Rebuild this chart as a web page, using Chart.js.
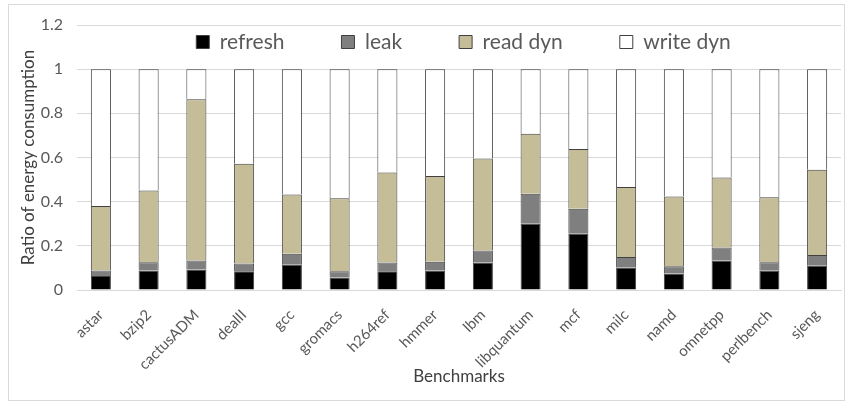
<!DOCTYPE html>
<html><head><meta charset="utf-8">
<script src="https://cdn.jsdelivr.net/npm/chart.js@4.4.1/dist/chart.umd.min.js"></script>
<style>
html,body{margin:0;padding:0;background:#fff;}
canvas{display:block;}
</style></head><body>
<canvas id="c" width="849" height="404"></canvas>
<script>
const categories = ['astar','bzip2','cactusADM','dealII','gcc','gromacs','h264ref','hmmer','lbm','libquantum','mcf','milc','namd','omnetpp','perlbench','sjeng'];
const refresh  = [0.063,0.088,0.093,0.085,0.114,0.057,0.085,0.088,0.125,0.300,0.255,0.102,0.075,0.134,0.087,0.110];
const leak     = [0.025,0.038,0.041,0.035,0.050,0.028,0.040,0.040,0.054,0.136,0.113,0.047,0.032,0.059,0.039,0.048];
const readDyn  = [0.292,0.325,0.730,0.452,0.269,0.331,0.407,0.388,0.416,0.271,0.271,0.317,0.316,0.317,0.294,0.387];
const writeDyn = [0.620,0.549,0.136,0.428,0.567,0.584,0.468,0.484,0.405,0.293,0.361,0.534,0.577,0.490,0.580,0.455];
const yTickLabels = ['0','0.2','0.4','0.6','0.8','1','1.2'];
const seriesNames = ['refresh','leak','read dyn','write dyn'];
const seriesColors = ['#000000','#7f7f7f','#c4bd97','#ffffff'];

const FONT = 'Lato';
const TXT = '#595959';
const LEGEND_Y = 31.5;
const LEGEND_DX = 43;

const frame = {
  id: 'frame',
  beforeDraw(chart) {
    const ctx = chart.ctx;
    ctx.save();
    ctx.fillStyle = '#ffffff';
    ctx.fillRect(0, 0, chart.width, chart.height);
    ctx.strokeStyle = '#d9d9d9';
    ctx.lineWidth = 1;
    ctx.strokeRect(8.5, 4.5, 836, 396);
    ctx.restore();
  }
};
// legend overlays the plot (takes no layout space) and sits between 1.2 and 1
const legendOverlay = {
  id: 'legendOverlay',
  beforeLayout(chart) {
    const l = chart.legend;
    if (l && !l._patched) {
      const orig = l.fit.bind(l);
      l.fit = function () { orig(); this.height = 0; };
      l._patched = true;
    }
  },
  afterLayout(chart) {
    const l = chart.legend;
    if (!l) return;
    const pad = l.options.labels.padding;
    l.top = LEGEND_Y - pad;
    l.bottom = LEGEND_Y + 21 + pad;
    l.height = l.bottom - l.top;
    l.left += LEGEND_DX;
    l.right += LEGEND_DX;
  }
};

function build() {
  const datasets = [refresh, leak, readDyn, writeDyn].map((d, i) => ({
    label: seriesNames[i],
    data: d,
    backgroundColor: seriesColors[i],
    borderColor: '#404040',
    borderWidth: 1,
    barPercentage: 0.42,
    categoryPercentage: 1.0
  }));
  new Chart(document.getElementById('c'), {
    type: 'bar',
    data: { labels: categories, datasets },
    plugins: [frame, legendOverlay],
    options: {
      responsive: false,
      animation: false,
      layout: { padding: { top: 25, right: 8, left: 0, bottom: 0 } },
      plugins: {
        tooltip: { enabled: false },
        legend: {
          position: 'top',
          align: 'center',
          labels: {
            boxWidth: 13, boxHeight: 13, padding: 57,
            color: TXT,
            font: { family: FONT, size: 21 }
          }
        }
      },
      scales: {
        x: {
          stacked: true,
          grid: { display: false, drawTicks: false },
          border: { display: true, color: '#d9d9d9' },
          ticks: {
            color: TXT, autoSkip: false, minRotation: 45, maxRotation: 45,
            padding: 16, font: { family: FONT, size: 15 }
          },
          title: {
            display: true, text: 'Benchmarks', color: '#404040',
            font: { family: FONT, size: 17 }, padding: { top: 4, bottom: 17 }
          },
          afterFit(s) { s.height = 114; }
        },
        y: {
          stacked: true,
          min: 0, max: 1.2,
          grid: { color: '#d9d9d9', drawTicks: false },
          border: { display: false },
          ticks: {
            stepSize: 0.2, color: TXT, padding: 14,
            font: { family: FONT, size: 16 },
            callback: (v, i) => yTickLabels[i]
          },
          title: {
            display: true, text: 'Ratio of energy consumption', color: '#404040',
            font: { family: FONT, size: 17 }, padding: { top: 18, bottom: 0 }
          },
          afterFit(s) { s.width = 77; }
        }
      }
    }
  });
}
if (document.fonts && document.fonts.load) {
  Promise.all([document.fonts.load('21px Lato'), document.fonts.load('15px Lato')]).then(build, build);
} else { build(); }
</script>
</body></html>
